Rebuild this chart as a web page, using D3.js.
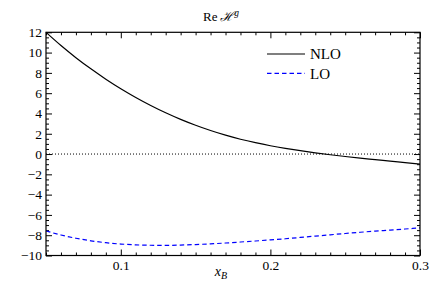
<!DOCTYPE html>
<html>
<head>
<meta charset="utf-8">
<script src="https://cdn.jsdelivr.net/npm/d3@7"></script>
<style>
  body { margin: 0; background: #fff; }
</style>
</head>
<body>
<svg id="chart" width="442" height="290" font-family="Liberation Serif, DejaVu Serif, serif"></svg>
<script>
const xB = [0.05, 0.06, 0.07, 0.08, 0.09, 0.10, 0.11, 0.12, 0.13, 0.14, 0.15, 0.16, 0.17,
  0.18, 0.19, 0.20, 0.21, 0.22, 0.23, 0.24, 0.25, 0.26, 0.27, 0.28, 0.29, 0.30];
const nlo = [12.0, 10.7, 9.5, 8.4, 7.38, 6.44, 5.58, 4.79, 4.07, 3.42, 2.84, 2.32, 1.86,
  1.46, 1.12, 0.82, 0.56, 0.33, 0.12, -0.07, -0.24, -0.40, -0.55, -0.70, -0.85, -1.0];
const lo = [-7.58, -7.98, -8.3, -8.55, -8.74, -8.87, -8.95, -8.99, -9.0, -8.97, -8.92, -8.85, -8.77,
  -8.67, -8.57, -8.46, -8.35, -8.22, -8.09, -7.96, -7.83, -7.71, -7.6, -7.5, -7.39, -7.28];
const xMajor = [0.1, 0.2, 0.3];
const yMajor = [-10, -8, -6, -4, -2, 0, 2, 4, 6, 8, 10, 12];
const seriesNames = ["NLO", "LO"];

const FONT = "Liberation Serif";
const margin = {left: 46, right: 22, top: 32.3, bottom: 34.5};
const width = 442, height = 290;

const x = d3.scaleLinear().domain([0.05, 0.3]).range([margin.left, width - margin.right]);
const y = d3.scaleLinear().domain([-10, 12]).range([height - margin.bottom, margin.top]);

const svg = d3.select('#chart');

const xMinor = d3.range(5, 31).map(d => d / 100).filter(d => !xMajor.some(m => Math.abs(m - d) < 1e-9));
const yMinor = d3.range(-20, 25).map(d => d / 2).filter(d => d % 2 !== 0);

// ticks on all four sides, pointing inward
const plotBottom = y(-10), plotTop = y(12);
const plotLeft = x(0.05), plotRight = x(0.3);

function clean(g) {
  g.attr('font-family', FONT).attr('font-size', 13.5);
  g.select('.domain').remove();
  g.selectAll('text').attr('font-family', FONT).attr('fill', '#000');
}

svg.append('g').attr('transform', `translate(0,${plotBottom})`)
  .call(d3.axisBottom(x).tickValues(xMajor).tickSize(-6).tickPadding(5).tickFormat(d3.format('.1f')))
  .call(clean);
svg.append('g').attr('transform', `translate(0,${plotBottom})`)
  .call(d3.axisBottom(x).tickValues(xMinor).tickSize(-3).tickFormat(''))
  .call(clean);
svg.append('g').attr('transform', `translate(0,${plotTop})`)
  .call(d3.axisTop(x).tickValues(xMajor).tickSize(-6).tickFormat(''))
  .call(clean);
svg.append('g').attr('transform', `translate(0,${plotTop})`)
  .call(d3.axisTop(x).tickValues(xMinor).tickSize(-3).tickFormat(''))
  .call(clean);

svg.append('g').attr('transform', `translate(${plotLeft},0)`)
  .call(d3.axisLeft(y).tickValues(yMajor).tickSize(-6).tickPadding(4).tickFormat(d3.format('d')))
  .call(clean);
svg.append('g').attr('transform', `translate(${plotLeft},0)`)
  .call(d3.axisLeft(y).tickValues(yMinor).tickSize(-3).tickFormat(''))
  .call(clean);
svg.append('g').attr('transform', `translate(${plotRight},0)`)
  .call(d3.axisRight(y).tickValues(yMajor).tickSize(-6).tickFormat(''))
  .call(clean);
svg.append('g').attr('transform', `translate(${plotRight},0)`)
  .call(d3.axisRight(y).tickValues(yMinor).tickSize(-3).tickFormat(''))
  .call(clean);

svg.selectAll('.tick line').attr('stroke', '#000').attr('stroke-width', 1);

// zero line
svg.append('line')
  .attr('x1', plotLeft).attr('x2', plotRight)
  .attr('y1', y(0)).attr('y2', y(0))
  .attr('stroke', '#000').attr('stroke-width', 1).attr('stroke-dasharray', '1,2');

const line = d3.line().curve(d3.curveMonotoneX).x((d, i) => x(xB[i])).y(d => y(d));

svg.append('path').datum(nlo).attr('d', line)
  .attr('fill', 'none').attr('stroke', '#000').attr('stroke-width', 1.2);
svg.append('path').datum(lo).attr('d', line)
  .attr('fill', 'none').attr('stroke', '#0000ff').attr('stroke-width', 1.2)
  .attr('stroke-dasharray', '4.5,3');

// frame
svg.append('rect')
  .attr('x', plotLeft).attr('y', plotTop)
  .attr('width', plotRight - plotLeft).attr('height', plotBottom - plotTop)
  .attr('fill', 'none').attr('stroke', '#000').attr('stroke-width', 1.2);

// legend
const legend = svg.append('g');
const styles = [{stroke: '#000', dash: null}, {stroke: '#0000ff', dash: '4.5,3'}];
seriesNames.forEach((name, i) => {
  const ly = 54 + i * 19.3;
  legend.append('line')
    .attr('x1', 267).attr('x2', 305).attr('y1', ly).attr('y2', ly)
    .attr('stroke', styles[i].stroke).attr('stroke-width', 1.2)
    .attr('stroke-dasharray', styles[i].dash);
  legend.append('text')
    .attr('x', 310).attr('y', ly).attr('dy', '0.35em')
    .attr('font-family', FONT).attr('font-size', 15).text(name);
});

// title
const title = svg.append('text')
  .attr('x', 221).attr('y', 20.5).attr('text-anchor', 'middle')
  .attr('font-family', FONT).attr('font-size', 13);
title.append('tspan').text('Re\u2009');
title.append('tspan').attr('font-style', 'italic').text('\u210B');
title.append('tspan').attr('font-style', 'italic').attr('font-size', 9.5).attr('dy', -5).text('g');

// x label
const xl = svg.append('text')
  .attr('x', 221).attr('y', 276).attr('text-anchor', 'middle')
  .attr('font-family', FONT).attr('font-size', 14);
xl.append('tspan').attr('font-style', 'italic').text('x');
xl.append('tspan').attr('font-style', 'italic').attr('font-size', 10).attr('dy', 3).text('B');
</script>
</body>
</html>
